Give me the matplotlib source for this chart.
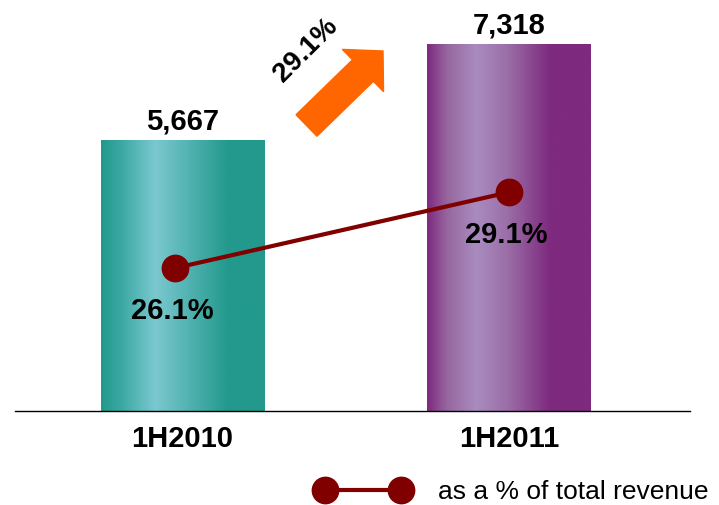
import numpy as np
import matplotlib
matplotlib.use("Agg")
import matplotlib.pyplot as plt
import matplotlib.patches as mpatches
from matplotlib.colors import LinearSegmentedColormap
from matplotlib.lines import Line2D

plt.rcParams['font.family'] = ['Liberation Sans', 'DejaVu Sans']

categories = ["1H2010", "1H2011"]
revenue = [5667, 7318]
pct_of_total = [26.1, 29.1]
revenue_labels = ["5,667", "7,318"]
pct_labels = ["26.1%", "29.1%"]
growth_label = "29.1%"
legend_label = "as a % of total revenue"

fig = plt.figure(figsize=(7.19, 5.05), dpi=100)
ax = fig.add_axes([15/719, (505-411)/505, (690-15)/719, 411/505])

YMIN, YMAX = 1006, 8075
x = np.arange(len(categories))
bars = ax.bar(x, revenue, width=0.5, color='none', edgecolor='none', zorder=2)

grads = [
    [(0.0, '#22998C'), (0.12, '#3AA8A2'), (0.33, '#7BC8CF'), (0.55, '#4FB1AF'), (0.78, '#22998C'), (1.0, '#22998C')],
    [(0.0, '#7E2A7E'), (0.12, '#96669F'), (0.30, '#A98CBF'), (0.50, '#9A6CA6'), (0.75, '#7E2A7E'), (1.0, '#7E2A7E')],
]
grad = np.linspace(0, 1, 256).reshape(1, -1)
for b, g in zip(bars, grads):
    cmap = LinearSegmentedColormap.from_list('g', g)
    x0 = b.get_x()
    w, h = b.get_width(), b.get_height()
    ax.imshow(grad, cmap=cmap, extent=(x0, x0 + w, YMIN, b.get_y() + h),
              aspect='auto', zorder=2, interpolation='bilinear')
ax.set_xlim(-0.513, 1.554)
ax.set_ylim(YMIN, YMAX)

for xi, v, lab in zip(x, revenue, revenue_labels):
    ax.annotate(lab, (xi, v), xytext=(0, 3), textcoords='offset points',
                ha='center', va='bottom', fontsize=21, fontweight='bold', zorder=5)

for s in ['top', 'right', 'left']:
    ax.spines[s].set_visible(False)
ax.spines['bottom'].set_linewidth(1.0)
ax.spines['bottom'].set_zorder(3)
ax.set_yticks([])
ax.set_xticks(x)
ax.set_xticklabels(categories, fontsize=21, fontweight='bold')
ax.tick_params(axis='x', length=0, pad=10)

ax2 = ax.twinx()
ax2.set_ylim(20.45, 36.7)
for s in ax2.spines.values():
    s.set_visible(False)
ax2.set_yticks([])
line_x = x - np.array([0.023, 0.0])
ax2.plot(line_x, pct_of_total, color='#800000', lw=3,
         marker='o', markersize=19, zorder=4)
for xi, v, lab in zip(line_x, pct_of_total, pct_labels):
    ax2.annotate(lab, (xi, v), xytext=(-2, -31), textcoords='offset points',
                 ha='center', va='center', fontsize=21, fontweight='bold')

# growth arrow
arrow = mpatches.FancyArrow(3.065, 5.05 - 1.255, 0.765, 0.745, width=0.30,
                            head_width=0.59, head_length=0.28,
                            length_includes_head=True, color='#FF6600',
                            transform=fig.dpi_scale_trans)
fig.patches.append(arrow)
fig.text(306/719, (505-50)/505, growth_label, rotation=45, ha='center', va='center',
         fontsize=20, fontweight='bold')

# legend
handle = Line2D([], [], color='#800000', lw=3, marker='o', markersize=19)
leg = fig.legend([handle], [legend_label], loc='center right',
                 bbox_to_anchor=(708/719, (505-492)/505), frameon=False,
                 fontsize=19, numpoints=2, handlelength=3.48, handletextpad=1.1,
                 borderaxespad=0, borderpad=0)

fig.savefig('out.png', dpi=100)
